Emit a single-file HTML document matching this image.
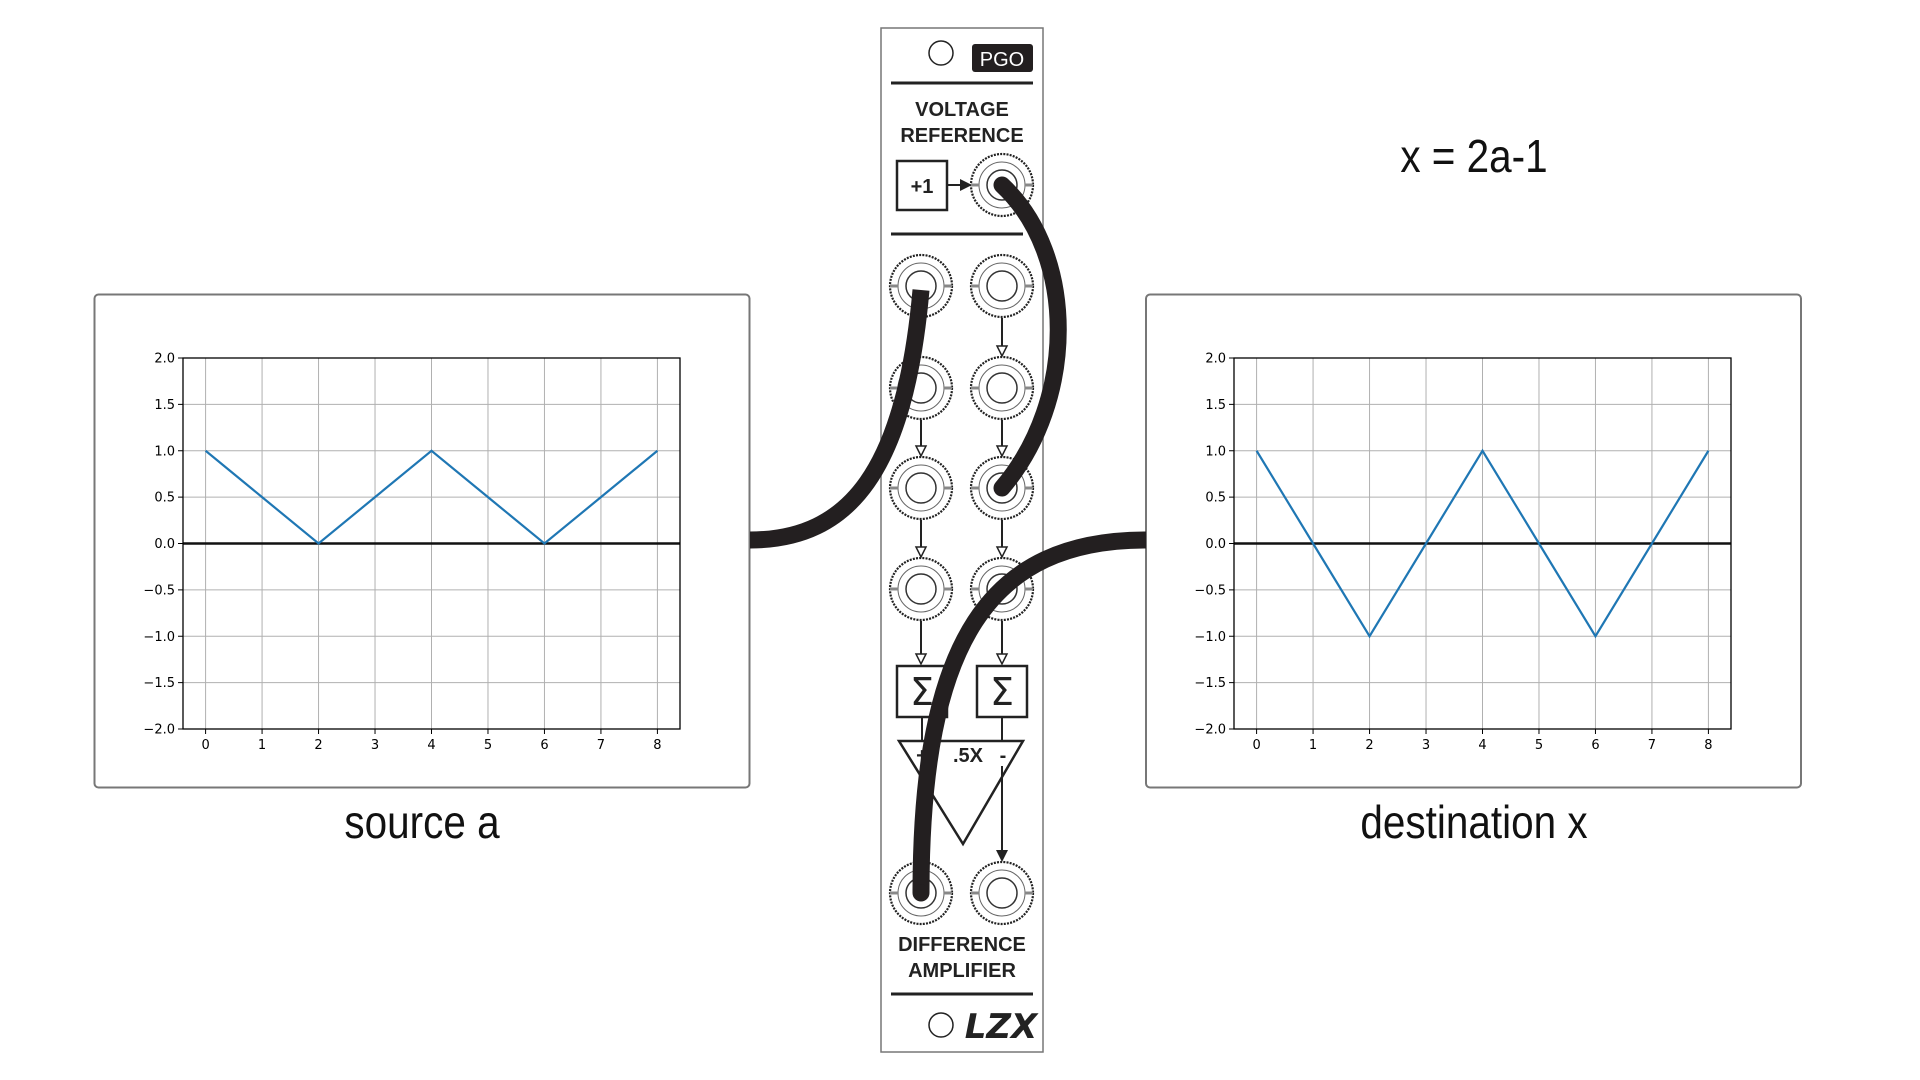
<!DOCTYPE html>
<html><head><meta charset="utf-8"><style>
html,body{margin:0;padding:0;background:#fff;width:1920px;height:1080px;overflow:hidden}
svg{display:block}
text{font-family:"DejaVu Sans","Liberation Sans",sans-serif}
.big{font-family:"Liberation Sans",sans-serif;font-size:46px;fill:#111}
.pl{font-family:"Liberation Sans",sans-serif;font-weight:bold;fill:#222}
</style></head><body>
<svg id="root" width="1920" height="1080" viewBox="0 0 1920 1080">
  <rect x="94.5" y="294.5" width="655" height="493" rx="4" fill="#fff" stroke="#777" stroke-width="2"/>
  <rect x="1146" y="294.5" width="655" height="493" rx="4" fill="#fff" stroke="#777" stroke-width="2"/>
  <g id="chartA"></g>
  <g id="chartX"></g>
  <text class="big" x="422" y="838" text-anchor="middle" transform="translate(422 0) scale(0.88 1) translate(-422 0)">source a</text>
  <text class="big" x="1474" y="838" text-anchor="middle" transform="translate(1474 0) scale(0.88 1) translate(-1474 0)">destination x</text>
  <text class="big" x="1474" y="172" text-anchor="middle" transform="translate(1474 0) scale(0.88 1) translate(-1474 0)">x = 2a-1</text>

  <g id="panel">
    <rect x="881" y="28" width="162" height="1024" fill="#fff" stroke="#777" stroke-width="1.5"/>
    <circle cx="941" cy="53" r="12" fill="none" stroke="#222" stroke-width="1.5"/>
    <rect x="972" y="44" width="61" height="28" rx="3" fill="#231f20"/>
    <text class="pl" x="1002" y="66" text-anchor="middle" font-size="20" style="fill:#fff;font-weight:normal">PGO</text>
    <line x1="891" y1="83" x2="1033" y2="83" stroke="#222" stroke-width="3"/>
    <text class="pl" x="962" y="116" text-anchor="middle" font-size="20">VOLTAGE</text>
    <text class="pl" x="962" y="142" text-anchor="middle" font-size="20">REFERENCE</text>
    <rect x="897" y="161" width="50" height="49" fill="none" stroke="#222" stroke-width="2.5"/>
    <text class="pl" x="922" y="193" text-anchor="middle" font-size="20">+1</text>
    <line x1="947" y1="185" x2="962" y2="185" stroke="#222" stroke-width="2"/>
    <polygon points="960,179 972,185 960,191" fill="#222"/>
    <line x1="891" y1="234" x2="1023" y2="234" stroke="#222" stroke-width="3"/>
    <g id="jacks"></g>
    <g id="arrows"></g>
    <rect x="897" y="666" width="50" height="51" fill="#fff" stroke="#222" stroke-width="2.5"/>
    <text x="922" y="705" text-anchor="middle" font-size="38" fill="#222">Σ</text>
    <rect x="977" y="666" width="50" height="51" fill="#fff" stroke="#222" stroke-width="2.5"/>
    <text x="1002" y="705" text-anchor="middle" font-size="38" fill="#222">Σ</text>
    <line x1="922" y1="717" x2="922" y2="741" stroke="#222" stroke-width="2"/>
    <line x1="1002" y1="717" x2="1002" y2="741" stroke="#222" stroke-width="2"/>
    <polygon points="899,741 1023,741 963,844" fill="#fff" stroke="#222" stroke-width="2.5"/>
    <text class="pl" x="922" y="762" text-anchor="middle" font-size="20">+</text>
    <text class="pl" x="968" y="762" text-anchor="middle" font-size="20">.5X</text>
    <text class="pl" x="1003" y="762" text-anchor="middle" font-size="20">-</text>
    <line x1="1002" y1="766" x2="1002" y2="852" stroke="#222" stroke-width="2"/>
    <polygon points="996,850 1008,850 1002,862" fill="#222"/>
    <text class="pl" x="962" y="951" text-anchor="middle" font-size="20">DIFFERENCE</text>
    <text class="pl" x="962" y="977" text-anchor="middle" font-size="20">AMPLIFIER</text>
    <line x1="891" y1="994" x2="1033" y2="994" stroke="#222" stroke-width="3"/>
    <circle cx="941" cy="1025" r="12" fill="none" stroke="#222" stroke-width="1.5"/>
    <text x="1001" y="1038" text-anchor="middle" font-size="34" font-weight="bold" font-style="italic" fill="#222" font-family="Liberation Sans">LZX</text>
  </g>

  <g fill="none" stroke="#231f20" stroke-width="17" stroke-linecap="round">
    <path d="M750,540 C850,540 905,470 921,290" stroke-linecap="butt"/>
    <path d="M1002,185 C1077,255 1077,400 1002,488"/>
    <path d="M1146,540 C990,540 921,640 921,893" stroke-linecap="butt"/>
  </g>
  <circle cx="921" cy="893" r="8.5" fill="#231f20"/>
</svg>
<script>
const xTicks = [0,1,2,3,4,5,6,7,8];
const yTicks = [2.0,1.5,1.0,0.5,0.0,-0.5,-1.0,-1.5,-2.0];
const xValues = [0,1,2,3,4,5,6,7,8];
const sourceValues = [1,0.5,0,0.5,1,0.5,0,0.5,1];
const destValues = [1,0,-1,0,1,0,-1,0,1];

const NS = "http://www.w3.org/2000/svg";
function mk(parent, tag, attrs){const e=document.createElementNS(NS,tag);for(const k in attrs)e.setAttribute(k,attrs[k]);parent.appendChild(e);return e;}

function drawChart(g, left, right, top, bottom, values, nm){
  const xmin=-0.4, xmax=8.4, ymin=-2, ymax=2;
  const sx=v=>left+(v-xmin)/(xmax-xmin)*(right-left);
  const sy=v=>bottom-(v-ymin)/(ymax-ymin)*(bottom-top);
  xTicks.forEach(t=>{
    const l=mk(g,'line',{x1:sx(t),x2:sx(t),y1:top,y2:bottom,stroke:'#b0b0b0','stroke-width':1});
    
    
    mk(g,'line',{x1:sx(t),x2:sx(t),y1:bottom,y2:bottom+5,stroke:'#000','stroke-width':1});
    const tx=mk(g,'text',{x:sx(t),y:bottom+20,'text-anchor':'middle','font-size':13,fill:'#000'});
    tx.textContent=String(t);
    
    
  });
  yTicks.forEach(t=>{
    const l=mk(g,'line',{x1:left,x2:right,y1:sy(t),y2:sy(t),stroke:'#b0b0b0','stroke-width':1});
    
    
    mk(g,'line',{x1:left-5,x2:left,y1:sy(t),y2:sy(t),stroke:'#000','stroke-width':1});
    const tx=mk(g,'text',{x:left-8,y:sy(t)+4.5,'text-anchor':'end','font-size':13,fill:'#000'});
    tx.textContent=(t<0?'\u2212':'')+Math.abs(t).toFixed(1);
    
    
  });
  const z=mk(g,'line',{x1:left,x2:right,y1:sy(0),y2:sy(0),stroke:'#111','stroke-width':2.5});
  
  
  const pts=xValues.map((x,i)=>sx(x)+','+sy(values[i])).join(' ');
  const pl=mk(g,'polyline',{points:pts,fill:'none',stroke:'#1f77b4','stroke-width':2.2});
  
  
  const fr=mk(g,'rect',{x:left,y:top,width:right-left,height:bottom-top,fill:'none',stroke:'#000','stroke-width':1.3});
  
  
}
drawChart(document.getElementById('chartA'),183,680,358,729,sourceValues,'source-series-line');
drawChart(document.getElementById('chartX'),1234,1731,358,729,destValues,'destination-series-line');

const jg=document.getElementById('jacks');
const cols=[921,1002], rows=[286,388,488,589,893];
function jack(cx,cy){
  const g=mk(jg,'g',{});
  
  
  mk(g,'circle',{cx,cy,r:31,fill:'#fff',stroke:'#222','stroke-width':2.2,'stroke-dasharray':'2 1.2'});
  mk(g,'circle',{cx,cy,r:23,fill:'none',stroke:'#666','stroke-width':1});
  mk(g,'circle',{cx,cy,r:15,fill:'none',stroke:'#333','stroke-width':1.5});
  mk(g,'line',{x1:cx-31,x2:cx-23,y1:cy,y2:cy,stroke:'#888','stroke-width':3});
  mk(g,'line',{x1:cx+23,x2:cx+31,y1:cy,y2:cy,stroke:'#888','stroke-width':3});
}
jack(1002,185);
cols.forEach(c=>rows.forEach(r=>jack(c,r)));
const ag=document.getElementById('arrows');
function arrow(x,y1,y2){
  mk(ag,'line',{x1:x,x2:x,y1:y1,y2:y2-8,stroke:'#222','stroke-width':2});
  mk(ag,'polygon',{points:`${x-5},${y2-10} ${x+5},${y2-10} ${x},${y2}`,fill:'#fff',stroke:'#222','stroke-width':1.5});
}
arrow(1002,318,356);
arrow(921,420,456);arrow(1002,420,456);
arrow(921,520,557);arrow(1002,520,557);
arrow(921,621,664);arrow(1002,621,664);
</script>
</body></html>
